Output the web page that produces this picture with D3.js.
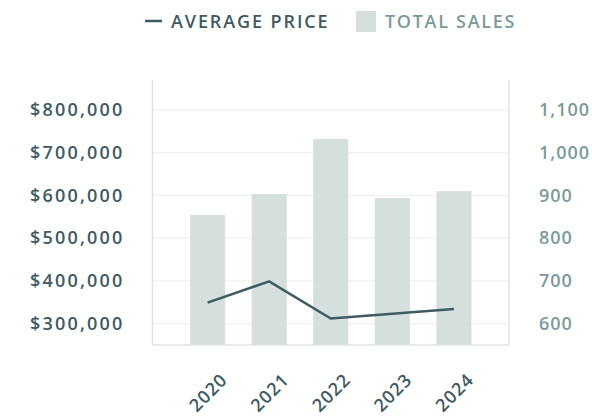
<!DOCTYPE html>
<html>
<head>
<meta charset="utf-8">
<script src="https://cdn.jsdelivr.net/npm/d3@7"></script>
<style>
  body { margin: 0; background: #fff; }
  svg text { font-family: "Open Sans", sans-serif; font-weight: 600; }
</style>
</head>
<body>
<div id="chart"></div>
<script>
// data
const years = ['2020', '2021', '2022', '2023', '2024'];
const totalSales = [854, 903, 1032, 894, 910];
const avgPrice = [349000, 399000, 312000, 323000, 334000];
const priceTicks = [300000, 400000, 500000, 600000, 700000, 800000];
const salesTicks = [600, 700, 800, 900, 1000, 1100];

const drawChart = () => {
	const width = 592,
		height = 417,
		margin = {top: 80, right: 83, bottom: 72, left: 152.5},
		innerWidth = width - margin.left - margin.right,
		innerHeight = height - margin.top - margin.bottom;

	const darkCol = '#3e5a63',
		lightCol = '#7b9a9c',
		barCol = '#d5dfdd',
		gridCol = '#ececec',
		frameCol = '#dfe6e5';

	const svg = d3.select('#chart').append('svg').attr('width', width).attr('height', height),
		g = svg.append('g').attr('transform', `translate(${margin.left}, ${margin.top})`);

	const x = d3.scaleBand()
		.domain(years)
		.range([0, innerWidth])
		.paddingInner(0.43)
		.paddingOuter(0.61);

	const yPrice = d3.scaleLinear()
		.domain([250000, 870000])
		.range([innerHeight, 0]);
	const ySales = d3.scaleLinear()
		.domain([550, 1170])
		.range([innerHeight, 0]);

	//grid lines
	g.append('g')
		.selectAll('line')
		.data(priceTicks)
		.enter().append('line')
		.attr('x1', 0)
		.attr('x2', innerWidth)
		.attr('y1', d => yPrice(d))
		.attr('y2', d => yPrice(d))
		.attr('stroke', gridCol)
		.attr('stroke-width', 1);

	//bars
	g.append('g')
		.selectAll('rect')
		.data(years)
		.enter().append('rect')
		.attr('x', d => x(d))
		.attr('width', x.bandwidth())
		.attr('y', (d, i) => ySales(totalSales[i]))
		.attr('height', (d, i) => innerHeight - ySales(totalSales[i]))
		.attr('fill', barCol);

	//frame: left, right, bottom
	const frame = g.append('g').attr('stroke', frameCol).attr('stroke-width', 1.5);
	frame.append('line').attr('x1', 0).attr('x2', 0).attr('y1', 0).attr('y2', innerHeight);
	frame.append('line').attr('x1', innerWidth).attr('x2', innerWidth).attr('y1', 0).attr('y2', innerHeight);
	frame.append('line').attr('x1', 0).attr('x2', innerWidth).attr('y1', innerHeight).attr('y2', innerHeight);

	//price line
	const line = d3.line()
		.x((d, i) => x(years[i]) + x.bandwidth() / 2)
		.y(d => yPrice(d));
	g.append('path')
		.datum(avgPrice)
		.attr('d', line)
		.attr('fill', 'none')
		.attr('stroke', darkCol)
		.attr('stroke-width', 2.5);

	//left axis
	const leftAxis = g.append('g')
		.call(d3.axisLeft(yPrice).tickValues(priceTicks).tickSize(0).tickPadding(28).tickFormat(d => '$' + d3.format(',')(d)));
	leftAxis.select('.domain').remove();
	leftAxis.selectAll('text')
		.attr('fill', darkCol)
		.style('font-size', '18px')
		.style('letter-spacing', '2.2px');

	//right axis
	const rightAxis = g.append('g')
		.attr('transform', `translate(${innerWidth}, 0)`)
		.call(d3.axisRight(ySales).tickValues(salesTicks).tickSize(0).tickPadding(30).tickFormat(d3.format(',')));
	rightAxis.select('.domain').remove();
	rightAxis.selectAll('text')
		.attr('fill', lightCol)
		.style('font-size', '18px')
		.style('letter-spacing', '1px');

	//x axis
	const bottomAxis = g.append('g')
		.attr('transform', `translate(0, ${innerHeight})`)
		.call(d3.axisBottom(x).tickSize(0));
	bottomAxis.select('.domain').remove();
	bottomAxis.selectAll('text')
		.attr('fill', darkCol)
		.style('font-size', '18px')
		.style('letter-spacing', '1px')
		.attr('text-anchor', 'end')
		.attr('dy', null)
		.attr('y', null)
		.attr('transform', 'translate(21, 36) rotate(-45)');

	//legend
	const legend = svg.append('g').attr('transform', 'translate(145, 21)');
	legend.append('line')
		.attr('x1', 0).attr('x2', 17)
		.attr('stroke', darkCol).attr('stroke-width', 2.5);
	legend.append('text')
		.attr('x', 26).attr('y', 6.5)
		.attr('fill', darkCol)
		.style('font-size', '18px')
		.style('letter-spacing', '1.9px')
		.text('AVERAGE PRICE');
	legend.append('rect')
		.attr('x', 211).attr('y', -10)
		.attr('width', 20).attr('height', 21)
		.attr('fill', barCol);
	legend.append('text')
		.attr('x', 240).attr('y', 6.5)
		.attr('fill', lightCol)
		.style('font-size', '18px')
		.style('letter-spacing', '1.7px')
		.text('TOTAL SALES');
}

drawChart();
</script>
</body>
</html>
